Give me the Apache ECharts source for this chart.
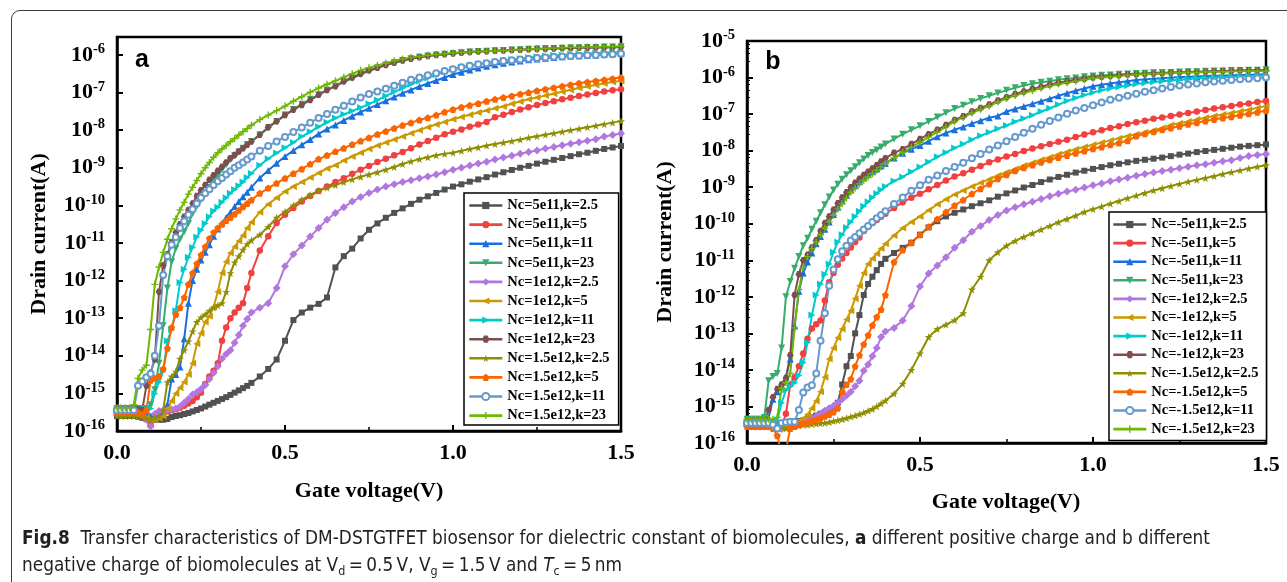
<!DOCTYPE html>
<html><head><meta charset="utf-8">
<script src="https://cdn.jsdelivr.net/npm/echarts@6/dist/echarts.min.js"></script>
<style>
html,body{margin:0;padding:0;background:#fff;width:1287px;height:582px;overflow:hidden;position:relative;}
#frame{position:absolute;left:11px;top:10px;width:1300px;height:600px;border:1.3px solid #3c3c3c;border-radius:9px;box-sizing:border-box;}
#chart{position:absolute;left:0;top:0;width:1287px;height:582px;}
.cap{position:absolute;left:22px;white-space:nowrap;font-family:"Liberation Sans Narrow","DejaVu Sans Condensed","Liberation Sans",sans-serif;font-size:19px;line-height:20px;color:#231f20;transform-origin:0 50%;}
.cap .sb{font-size:0.66em;position:relative;top:0.3em;}
</style></head>
<body>
<div id="frame"></div>
<div id="chart"></div>
<div id="cap1" class="cap" style="top:527px"><b>Fig.8</b>&nbsp; Transfer characteristics of DM-DSTGTFET biosensor for dielectric constant of biomolecules, <b>a</b> different positive charge and b different</div>
<div id="cap2" class="cap" style="top:554px">negative charge of biomolecules at V<span class="sb">d</span>&#8201;=&#8201;0.5&#8201;V, V<span class="sb">g</span>&#8201;=&#8201;1.5&#8201;V and <i>T</i><span class="sb">c</span>&#8201;=&#8201;5&#8201;nm</div>
<script>
// Gate voltage (V) sample points shared by all curves
const X = [0,0.0125,0.025,0.0375,0.05,0.0625,0.075,0.0875,0.1,0.1125,0.125,0.1375,0.15,0.1625,0.175,0.1875,0.2,0.2125,0.225,0.2375,0.25,0.2625,0.275,0.2875,0.3,0.3125,0.325,0.3375,0.35,0.3625,0.375,0.3875,0.4,
0.425,0.45,0.475,0.5,0.525,0.55,0.575,0.6,0.625,0.65,0.675,0.7,0.725,0.75,0.775,0.8,0.825,0.85,0.875,0.9,0.925,0.95,0.975,1.0,1.025,1.05,1.075,1.1,1.125,1.15,1.175,1.2,1.225,1.25,1.275,1.3,1.325,1.35,1.375,1.4,1.425,1.45,1.475,1.5];

// Legend names
const NAMES_A = ['Nc=5e11,k=2.5','Nc=5e11,k=5','Nc=5e11,k=11','Nc=5e11,k=23','Nc=1e12,k=2.5','Nc=1e12,k=5','Nc=1e12,k=11','Nc=1e12,k=23','Nc=1.5e12,k=2.5','Nc=1.5e12,k=5','Nc=1.5e12,k=11','Nc=1.5e12,k=23'];
const NAMES_B = ['Nc=-5e11,k=2.5','Nc=-5e11,k=5','Nc=-5e11,k=11','Nc=-5e11,k=23','Nc=-1e12,k=2.5','Nc=-1e12,k=5','Nc=-1e12,k=11','Nc=-1e12,k=23','Nc=-1.5e12,k=2.5','Nc=-1.5e12,k=5','Nc=-1.5e12,k=11','Nc=-1.5e12,k=23'];

// Y tick labels (decades)
const Y_TICKS_A = [-16,-15,-14,-13,-12,-11,-10,-9,-8,-7,-6];
const Y_TICKS_B = [-16,-15,-14,-13,-12,-11,-10,-9,-8,-7,-6,-5];

// Panel a: log10 of drain current (A)
const A1 = [-15.6,-15.6,-15.6,-15.6,-15.6,-15.62,-15.65,-15.68,-15.7,-15.7,-15.7,-15.7,-15.68,-15.63,-15.6,-15.58,-15.55,-15.52,-15.48,-15.44,-15.4,-15.35,-15.3,-15.25,-15.2,-15.15,-15.1,-15.04,-14.98,-14.92,-14.86,-14.8,-14.72,
-14.55,-14.35,-14.1,-13.6,-13.05,-12.85,-12.72,-12.62,-12.45,-11.65,-11.35,-11.15,-10.88,-10.65,-10.48,-10.33,-10.2,-10.08,-9.96,-9.85,-9.76,-9.67,-9.58,-9.5,-9.44,-9.37,-9.31,-9.25,-9.18,-9.12,-9.06,-9.0,-8.95,-8.89,-8.84,-8.79,-8.74,-8.69,-8.64,-8.6,-8.55,-8.5,-8.46,-8.42];
const A2 = [-15.5,-15.5,-15.5,-15.5,-15.5,-15.5,-15.5,-15.55,-15.85,-15.6,-15.52,-15.5,-15.48,-15.45,-15.42,-15.38,-15.33,-15.27,-15.2,-15.1,-14.98,-14.75,-14.55,-14.4,-14.2,-13.6,-13.25,-13.0,-12.85,-12.72,-12.6,-12.2,-11.8,
-11.2,-10.82,-10.47,-10.25,-10.07,-9.9,-9.75,-9.62,-9.5,-9.38,-9.28,-9.16,-9.05,-8.95,-8.85,-8.76,-8.67,-8.58,-8.48,-8.38,-8.29,-8.2,-8.11,-8.04,-7.98,-7.91,-7.85,-7.78,-7.66,-7.59,-7.52,-7.45,-7.39,-7.33,-7.28,-7.23,-7.18,-7.14,-7.09,-7.05,-7.01,-6.97,-6.94,-6.91];
const A3 = [-15.48,-15.48,-15.48,-15.48,-15.48,-15.48,-15.5,-15.55,-15.6,-15.6,-15.58,-15.55,-15.3,-14.62,-14.5,-14.3,-13.55,-12.6,-12.0,-11.7,-11.45,-11.25,-11.05,-10.82,-10.63,-10.47,-10.32,-10.18,-10.03,-9.9,-9.77,-9.65,-9.52,
-9.27,-9.07,-8.88,-8.7,-8.54,-8.39,-8.25,-8.1,-7.97,-7.86,-7.74,-7.63,-7.52,-7.42,-7.32,-7.22,-7.12,-7.02,-6.93,-6.84,-6.76,-6.68,-6.6,-6.52,-6.46,-6.4,-6.35,-6.3,-6.26,-6.22,-6.19,-6.16,-6.13,-6.11,-6.09,-6.07,-6.05,-6.03,-6.02,-6.01,-6.0,-5.99,-5.97,-5.96];
const A4 = [-15.4,-15.4,-15.4,-15.4,-15.4,-15.4,-15.4,-15.4,-15.3,-14.9,-14.2,-13.2,-12.2,-11.5,-11.15,-10.9,-10.7,-10.48,-10.22,-10.03,-9.85,-9.68,-9.52,-9.36,-9.2,-9.05,-8.92,-8.79,-8.68,-8.58,-8.48,-8.39,-8.3,
-8.13,-7.94,-7.77,-7.6,-7.45,-7.31,-7.18,-7.06,-6.94,-6.83,-6.72,-6.62,-6.52,-6.43,-6.35,-6.27,-6.21,-6.15,-6.1,-6.06,-6.03,-6.0,-5.98,-5.96,-5.94,-5.92,-5.91,-5.9,-5.89,-5.88,-5.87,-5.86,-5.85,-5.84,-5.83,-5.83,-5.82,-5.81,-5.81,-5.8,-5.8,-5.79,-5.79,-5.78];
const A5 = [-15.55,-15.55,-15.55,-15.55,-15.55,-15.55,-15.58,-15.7,-15.88,-15.55,-15.47,-15.45,-15.45,-15.43,-15.4,-15.35,-15.25,-15.15,-15.03,-14.97,-14.88,-14.78,-14.62,-14.45,-14.28,-14.08,-13.95,-13.85,-13.65,-13.45,-13.2,-13.02,-12.85,
-12.72,-12.6,-12.2,-11.62,-11.3,-11.07,-10.83,-10.6,-10.38,-10.2,-10.05,-9.9,-9.78,-9.67,-9.58,-9.5,-9.44,-9.38,-9.33,-9.28,-9.23,-9.18,-9.12,-9.05,-9.0,-8.94,-8.89,-8.84,-8.78,-8.73,-8.68,-8.63,-8.58,-8.54,-8.49,-8.45,-8.4,-8.36,-8.32,-8.28,-8.24,-8.17,-8.13,-8.09];
const A6 = [-15.55,-15.55,-15.55,-15.55,-15.55,-15.55,-15.58,-15.65,-15.72,-15.7,-15.66,-15.6,-15.4,-15.2,-15.0,-14.85,-14.7,-14.5,-14.2,-13.68,-13.4,-13.1,-12.95,-12.7,-12.3,-11.8,-11.5,-11.27,-11.1,-10.95,-10.8,-10.6,-10.45,
-10.18,-9.97,-9.8,-9.63,-9.5,-9.38,-9.26,-9.14,-9.02,-8.93,-8.81,-8.7,-8.6,-8.5,-8.41,-8.33,-8.25,-8.17,-8.08,-8.0,-7.92,-7.85,-7.78,-7.71,-7.65,-7.59,-7.53,-7.48,-7.42,-7.37,-7.3,-7.24,-7.18,-7.13,-7.08,-7.03,-6.98,-6.93,-6.88,-6.84,-6.8,-6.76,-6.72,-6.69];
const A7 = [-15.45,-15.45,-15.45,-15.45,-15.45,-15.45,-15.45,-15.5,-15.4,-15.0,-14.7,-14.4,-13.6,-13.3,-12.8,-12.05,-11.7,-11.38,-11.12,-10.84,-10.66,-10.48,-10.3,-10.15,-10.05,-9.92,-9.8,-9.68,-9.58,-9.48,-9.38,-9.26,-9.15,
-8.93,-8.76,-8.61,-8.47,-8.33,-8.17,-8.04,-7.91,-7.79,-7.68,-7.58,-7.49,-7.4,-7.3,-7.2,-7.09,-6.98,-6.88,-6.78,-6.69,-6.61,-6.53,-6.45,-6.38,-6.33,-6.29,-6.25,-6.21,-6.18,-6.15,-6.12,-6.1,-6.07,-6.05,-6.03,-6.01,-6.0,-5.98,-5.97,-5.96,-5.95,-5.94,-5.93,-5.92];
const A8 = [-15.42,-15.42,-15.42,-15.42,-15.42,-15.42,-15.45,-14.8,-14.45,-14.1,-12.3,-11.6,-11.3,-10.98,-10.72,-10.5,-10.3,-10.12,-9.95,-9.75,-9.6,-9.46,-9.32,-9.2,-9.08,-8.97,-8.86,-8.75,-8.66,-8.57,-8.48,-8.39,-8.3,
-8.12,-7.92,-7.76,-7.6,-7.46,-7.33,-7.2,-7.06,-6.93,-6.83,-6.7,-6.6,-6.5,-6.41,-6.34,-6.27,-6.21,-6.15,-6.1,-6.06,-6.03,-6.0,-5.98,-5.96,-5.94,-5.92,-5.91,-5.9,-5.89,-5.88,-5.87,-5.86,-5.85,-5.84,-5.84,-5.83,-5.82,-5.82,-5.81,-5.81,-5.8,-5.8,-5.8,-5.79];
const A9 = [-15.6,-15.6,-15.6,-15.6,-15.6,-15.6,-15.62,-15.66,-15.7,-15.65,-15.6,-15.45,-14.7,-14.55,-14.42,-14.08,-13.85,-13.62,-13.35,-13.1,-12.98,-12.9,-12.8,-12.72,-12.66,-12.6,-12.3,-11.8,-11.52,-11.35,-11.18,-11.03,-10.93,
-10.78,-10.57,-10.33,-10.17,-10.0,-9.85,-9.72,-9.61,-9.53,-9.46,-9.38,-9.31,-9.24,-9.18,-9.12,-9.05,-8.98,-8.9,-8.83,-8.77,-8.72,-8.67,-8.63,-8.6,-8.55,-8.5,-8.46,-8.41,-8.37,-8.33,-8.29,-8.25,-8.2,-8.16,-8.12,-8.08,-8.04,-8.0,-7.96,-7.92,-7.88,-7.84,-7.8,-7.76];
const A10 = [-15.5,-15.5,-15.5,-15.5,-15.5,-15.5,-15.55,-15.45,-14.65,-14.6,-14.55,-14.35,-13.8,-13.25,-12.9,-12.72,-12.45,-12.1,-11.8,-11.55,-11.32,-11.1,-10.88,-10.72,-10.6,-10.5,-10.4,-10.32,-10.23,-10.13,-10.04,-9.95,-9.86,
-9.68,-9.54,-9.41,-9.28,-9.15,-9.03,-8.9,-8.77,-8.67,-8.57,-8.48,-8.38,-8.29,-8.2,-8.11,-8.03,-7.95,-7.87,-7.8,-7.73,-7.67,-7.6,-7.52,-7.45,-7.39,-7.34,-7.29,-7.23,-7.18,-7.13,-7.09,-7.04,-7.0,-6.95,-6.91,-6.87,-6.83,-6.79,-6.75,-6.72,-6.69,-6.66,-6.63,-6.6];
const A11 = [-15.45,-15.45,-15.45,-15.45,-15.45,-14.8,-14.68,-14.57,-14.48,-14.0,-13.2,-11.85,-11.35,-11.05,-10.85,-10.6,-10.42,-10.25,-10.1,-9.95,-9.8,-9.68,-9.57,-9.46,-9.36,-9.27,-9.18,-9.09,-9.0,-8.93,-8.86,-8.78,-8.7,
-8.55,-8.42,-8.3,-8.18,-8.05,-7.93,-7.8,-7.68,-7.57,-7.46,-7.35,-7.24,-7.13,-7.04,-6.97,-6.9,-6.82,-6.74,-6.66,-6.6,-6.54,-6.49,-6.43,-6.38,-6.33,-6.29,-6.25,-6.22,-6.19,-6.16,-6.14,-6.12,-6.1,-6.08,-6.07,-6.05,-6.04,-6.03,-6.02,-6.01,-6.0,-5.99,-5.98,-5.97];
const A12 = [-15.38,-15.38,-15.38,-15.38,-15.3,-14.6,-14.38,-14.25,-13.3,-12.1,-11.64,-11.25,-10.9,-10.62,-10.36,-10.12,-9.92,-9.7,-9.52,-9.34,-9.16,-9.0,-8.86,-8.72,-8.6,-8.5,-8.41,-8.31,-8.22,-8.13,-8.04,-7.96,-7.87,
-7.72,-7.6,-7.48,-7.36,-7.23,-7.11,-6.99,-6.88,-6.78,-6.69,-6.59,-6.5,-6.41,-6.34,-6.28,-6.22,-6.16,-6.11,-6.07,-6.04,-6.01,-5.99,-5.97,-5.95,-5.93,-5.92,-5.91,-5.9,-5.89,-5.88,-5.87,-5.86,-5.85,-5.84,-5.83,-5.82,-5.81,-5.8,-5.8,-5.79,-5.79,-5.78,-5.78,-5.77];

// Panel b: log10 of drain current (A)
const B1 = [-15.45,-15.45,-15.45,-15.45,-15.45,-15.45,-15.45,-15.5,-15.55,-15.5,-15.45,-15.42,-15.4,-15.38,-15.35,-15.3,-15.25,-15.2,-15.15,-15.1,-15.05,-14.9,-14.4,-13.9,-13.62,-13.0,-12.5,-11.95,-11.65,-11.45,-11.27,-11.1,-10.96,
-10.8,-10.66,-10.52,-10.3,-10.1,-9.93,-9.8,-9.7,-9.61,-9.52,-9.44,-9.36,-9.26,-9.17,-9.09,-9.01,-8.94,-8.86,-8.79,-8.72,-8.66,-8.6,-8.55,-8.5,-8.45,-8.4,-8.36,-8.32,-8.28,-8.25,-8.22,-8.19,-8.15,-8.11,-8.08,-8.04,-8.01,-7.98,-7.95,-7.92,-7.89,-7.87,-7.85,-7.83];
const B2 = [-15.45,-15.45,-15.45,-15.45,-15.45,-15.45,-15.45,-15.55,-15.55,-15.2,-14.4,-14.2,-13.9,-13.55,-13.15,-12.87,-12.75,-12.65,-12.1,-11.6,-11.35,-11.12,-10.95,-10.8,-10.65,-10.5,-10.38,-10.2,-10.08,-9.98,-9.9,-9.81,-9.73,
-9.57,-9.41,-9.29,-9.18,-9.06,-8.94,-8.82,-8.71,-8.62,-8.52,-8.42,-8.32,-8.24,-8.16,-8.09,-8.01,-7.94,-7.88,-7.82,-7.76,-7.7,-7.63,-7.56,-7.5,-7.44,-7.38,-7.33,-7.27,-7.22,-7.18,-7.13,-7.09,-7.05,-7.01,-6.97,-6.93,-6.89,-6.85,-6.81,-6.78,-6.74,-6.71,-6.67,-6.64];
const B3 = [-15.4,-15.4,-15.4,-15.4,-15.4,-15.3,-14.8,-14.6,-14.45,-14.2,-13.7,-12.8,-11.85,-11.35,-11.05,-10.8,-10.55,-10.35,-10.15,-9.95,-9.75,-9.55,-9.38,-9.22,-9.08,-8.96,-8.85,-8.75,-8.66,-8.58,-8.5,-8.42,-8.35,
-8.2,-8.07,-7.96,-7.86,-7.74,-7.62,-7.52,-7.43,-7.35,-7.26,-7.18,-7.1,-7.05,-6.93,-6.86,-6.79,-6.72,-6.65,-6.58,-6.5,-6.43,-6.36,-6.3,-6.24,-6.2,-6.16,-6.13,-6.1,-6.07,-6.05,-6.03,-6.02,-6.0,-5.99,-5.98,-5.97,-5.96,-5.95,-5.95,-5.94,-5.93,-5.93,-5.92,-5.91];
const B4 = [-15.35,-15.35,-15.35,-15.35,-15.3,-14.3,-14.18,-14.1,-13.4,-12.0,-11.58,-11.22,-10.9,-10.6,-10.4,-10.15,-9.93,-9.7,-9.48,-9.27,-9.08,-8.92,-8.78,-8.66,-8.55,-8.44,-8.33,-8.23,-8.13,-8.05,-7.98,-7.9,-7.82,
-7.68,-7.55,-7.43,-7.32,-7.2,-7.08,-6.96,-6.85,-6.76,-6.66,-6.57,-6.5,-6.42,-6.35,-6.28,-6.22,-6.17,-6.13,-6.1,-6.06,-6.03,-6.01,-5.98,-5.96,-5.94,-5.93,-5.91,-5.9,-5.89,-5.88,-5.87,-5.86,-5.86,-5.85,-5.84,-5.84,-5.83,-5.82,-5.82,-5.81,-5.81,-5.8,-5.8,-5.79];
const B5 = [-15.55,-15.55,-15.55,-15.55,-15.55,-15.55,-15.55,-15.6,-15.62,-15.55,-15.5,-15.48,-15.45,-15.42,-15.38,-15.33,-15.27,-15.2,-15.12,-15.05,-14.98,-14.9,-14.8,-14.7,-14.6,-14.45,-14.3,-14.02,-13.85,-13.62,-13.4,-13.1,-12.95,
-12.85,-12.65,-12.25,-11.72,-11.36,-11.14,-10.92,-10.66,-10.45,-10.22,-10.06,-9.9,-9.76,-9.64,-9.55,-9.47,-9.4,-9.32,-9.25,-9.18,-9.12,-9.07,-9.01,-8.95,-8.9,-8.84,-8.79,-8.74,-8.69,-8.64,-8.6,-8.56,-8.52,-8.48,-8.44,-8.4,-8.37,-8.33,-8.29,-8.26,-8.2,-8.15,-8.12,-8.09];
const B6 = [-15.5,-15.5,-15.5,-15.5,-15.5,-15.5,-15.5,-15.55,-15.6,-15.55,-15.5,-15.45,-15.4,-15.32,-15.22,-15.05,-14.85,-14.6,-14.2,-13.7,-13.4,-13.12,-12.88,-12.62,-12.38,-12.05,-11.7,-11.35,-11.1,-10.95,-10.82,-10.68,-10.55,
-10.32,-10.12,-9.95,-9.8,-9.63,-9.47,-9.33,-9.2,-9.09,-8.98,-8.88,-8.78,-8.68,-8.59,-8.5,-8.41,-8.33,-8.25,-8.18,-8.1,-8.03,-7.96,-7.9,-7.84,-7.78,-7.72,-7.66,-7.6,-7.55,-7.5,-7.45,-7.38,-7.3,-7.25,-7.2,-7.15,-7.1,-7.05,-7.01,-6.97,-6.92,-6.88,-6.83,-6.78];
const B7 = [-15.45,-15.45,-15.45,-15.45,-15.45,-15.45,-15.45,-15.4,-14.9,-14.55,-14.45,-14.35,-14.15,-13.8,-13.25,-12.5,-11.95,-11.65,-11.38,-11.1,-10.78,-10.5,-10.3,-10.1,-9.95,-9.8,-9.66,-9.52,-9.4,-9.28,-9.17,-9.07,-8.98,
-8.83,-8.72,-8.58,-8.45,-8.31,-8.17,-8.05,-7.93,-7.82,-7.7,-7.59,-7.5,-7.4,-7.31,-7.21,-7.12,-7.03,-6.93,-6.84,-6.74,-6.64,-6.56,-6.48,-6.41,-6.35,-6.3,-6.26,-6.22,-6.18,-6.15,-6.12,-6.1,-6.08,-6.06,-6.04,-6.02,-6.01,-6.0,-5.99,-5.98,-5.97,-5.96,-5.95,-5.93];
const B8 = [-15.4,-15.4,-15.4,-15.4,-15.4,-15.1,-14.75,-14.52,-14.4,-14.22,-13.6,-11.95,-11.38,-11.0,-10.85,-10.65,-10.45,-10.2,-9.98,-9.8,-9.62,-9.44,-9.28,-9.14,-9.0,-8.88,-8.77,-8.67,-8.58,-8.49,-8.4,-8.3,-8.21,
-8.06,-7.96,-7.82,-7.68,-7.55,-7.43,-7.3,-7.16,-7.06,-6.93,-6.83,-6.74,-6.63,-6.54,-6.45,-6.38,-6.31,-6.25,-6.19,-6.14,-6.1,-6.06,-6.03,-6.0,-5.98,-5.96,-5.94,-5.92,-5.91,-5.9,-5.89,-5.88,-5.87,-5.86,-5.85,-5.85,-5.84,-5.83,-5.82,-5.82,-5.81,-5.81,-5.8,-5.8];
const B9 = [-15.45,-15.45,-15.45,-15.45,-15.45,-15.45,-15.45,-15.5,-15.55,-15.6,-15.6,-15.55,-15.52,-15.5,-15.5,-15.48,-15.47,-15.46,-15.45,-15.43,-15.4,-15.38,-15.35,-15.32,-15.28,-15.25,-15.21,-15.17,-15.12,-15.07,-15.0,-14.92,-14.84,
-14.65,-14.38,-14.0,-13.55,-13.1,-12.88,-12.76,-12.64,-12.45,-11.8,-11.45,-11.0,-10.78,-10.6,-10.47,-10.36,-10.26,-10.16,-10.06,-9.96,-9.87,-9.78,-9.68,-9.6,-9.53,-9.45,-9.38,-9.3,-9.23,-9.16,-9.09,-9.03,-8.97,-8.91,-8.85,-8.8,-8.75,-8.7,-8.64,-8.59,-8.54,-8.49,-8.44,-8.4];
const B10 = [-15.55,-15.55,-15.55,-15.55,-15.55,-15.55,-15.6,-15.8,-16.3,-16.2,-15.6,-15.55,-15.5,-15.47,-15.44,-15.4,-15.36,-15.32,-15.27,-15.22,-15.15,-15.05,-14.6,-14.4,-14.25,-13.9,-13.6,-13.3,-13.05,-12.78,-12.55,-12.35,-11.95,
-11.05,-10.72,-10.52,-10.3,-10.08,-9.87,-9.68,-9.5,-9.35,-9.18,-9.04,-8.91,-8.77,-8.66,-8.55,-8.47,-8.39,-8.32,-8.25,-8.19,-8.13,-8.07,-8.01,-7.95,-7.9,-7.84,-7.79,-7.73,-7.6,-7.54,-7.48,-7.43,-7.38,-7.33,-7.28,-7.24,-7.19,-7.15,-7.11,-7.07,-7.03,-6.99,-6.95,-6.91];
const B11 = [-15.45,-15.45,-15.45,-15.45,-15.45,-15.45,-15.5,-15.6,-15.45,-15.43,-15.42,-15.42,-15.1,-14.62,-14.48,-14.42,-14.1,-13.2,-12.45,-11.7,-11.25,-10.97,-10.75,-10.6,-10.46,-10.36,-10.26,-10.16,-10.06,-9.95,-9.85,-9.76,-9.66,
-9.46,-9.28,-9.1,-8.95,-8.8,-8.68,-8.56,-8.45,-8.33,-8.21,-8.09,-7.97,-7.86,-7.74,-7.63,-7.51,-7.4,-7.29,-7.19,-7.09,-6.99,-6.9,-6.83,-6.76,-6.68,-6.61,-6.55,-6.5,-6.44,-6.39,-6.35,-6.3,-6.26,-6.22,-6.19,-6.16,-6.13,-6.11,-6.09,-6.07,-6.05,-6.03,-6.02,-6.0];
const B12 = [-15.35,-15.35,-15.35,-15.35,-15.35,-15.35,-15.35,-15.3,-14.5,-14.35,-14.1,-12.85,-11.8,-11.2,-10.9,-10.68,-10.5,-10.3,-10.12,-9.95,-9.77,-9.6,-9.45,-9.3,-9.14,-9.02,-8.91,-8.81,-8.72,-8.63,-8.54,-8.45,-8.36,
-8.2,-8.05,-7.91,-7.77,-7.63,-7.49,-7.35,-7.2,-7.09,-6.97,-6.87,-6.78,-6.67,-6.57,-6.49,-6.42,-6.36,-6.29,-6.23,-6.18,-6.14,-6.1,-6.06,-6.02,-6.0,-5.98,-5.96,-5.94,-5.92,-5.91,-5.9,-5.89,-5.88,-5.87,-5.86,-5.86,-5.85,-5.84,-5.84,-5.83,-5.83,-5.82,-5.82,-5.82];

const SERIES_A = [A1,A2,A3,A4,A5,A6,A7,A8,A9,A10,A11,A12];
const SERIES_B = [B1,B2,B3,B4,B5,B6,B7,B8,B9,B10,B11,B12];

// ---- styling ----
const COLORS = ['#515151','#F14040','#1A6FDF','#37AD6B','#B177DE','#CC9900','#00CBCC','#7D4E4E','#8E8E00','#FB6501','#6699CC','#6FB802'];
const STAR = 'path://M50,0 L61,35 L98,35 L68,57 L79,91 L50,70 L21,91 L32,57 L2,35 L39,35 Z';
const PENT = 'path://M50,0 L98,36 L80,95 L20,95 L2,36 Z';
const HEX = 'path://M25,0 L75,0 L100,50 L75,100 L25,100 L0,50 Z';
const PLUS = 'path://M40,0 H60 V40 H100 V60 H60 V100 H40 V60 H0 V40 H40 Z';
const SYMBOLS = [['rect',0,6],['circle',0,6.5],['triangle',0,7],['triangle',180,7],['diamond',0,8],['triangle',90,7],['triangle',-90,7],[HEX,0,6.5],[STAR,0,8],[PENT,0,7],['emptyCircle',0,6],[PLUS,0,7]];
const SERIF = '"Liberation Serif","Times New Roman",serif';
const RICH = {b:{fontFamily:SERIF, fontWeight:'bold', fontSize:22, color:'#000', lineHeight:26},
              s:{fontFamily:SERIF, fontWeight:'bold', fontSize:14.5, color:'#000', verticalAlign:'top', lineHeight:14}};

function decadeText(e, ticks){
  const r = Math.round(e);
  if (Math.abs(e - r) > 1e-6 || ticks.indexOf(r) < 0) return '';
  return '{b|10}{s|' + r + '}';
}

function xAxisCfg(idx){
  return {type:'value', gridIndex:idx, min:0, max:1.5, interval:0.5,
    axisLine:{show:true, lineStyle:{color:'#000', width:2.5}},
    axisTick:{show:true, inside:true, length:6, lineStyle:{color:'#000', width:2}},
    minorTick:{show:true, splitNumber:2, length:4, lineStyle:{color:'#000', width:1.5}},
    axisLabel:{formatter:function(v){return v.toFixed(1);}, margin:11, fontFamily:SERIF, fontWeight:'bold', fontSize:22, color:'#000'},
    splitLine:{show:false}};
}
function yAxisCfg(idx, maxExp, ticks, minor, useLog){
  const common = {gridIndex:idx,
    axisLine:{show:true, lineStyle:{color:'#000', width:2.5}},
    axisTick:{show:true, inside:true, length:6, lineStyle:{color:'#000', width:2}},
    minorTick:{show:minor, splitNumber:5, length:3, lineStyle:{color:'#000', width:1}},
    splitLine:{show:false}, minorSplitLine:{show:false}};
  if (useLog) {
    return Object.assign(common, {type:'log', logBase:10, min:Math.pow(10,-16), max:Math.pow(10,maxExp), interval:1, splitNumber:ticks.length-1,
      axisLabel:{formatter:function(v){return decadeText(Math.log10(v), ticks);}, margin:12, rich:RICH}});
  }
  return Object.assign(common, {type:'value', min:-16, max:maxExp, interval:1,
    axisLabel:{formatter:function(v){return decadeText(v, ticks);}, margin:12, rich:RICH}});
}

function buildSeries(useLog){
  const out = [];
  function add(names, arrs, idx){
    arrs.forEach(function(arr, i){
      if (arr.length !== X.length) console.warn('length mismatch', names[i], arr.length);
      const sym = SYMBOLS[i];
      out.push({
        type:'line', name:names[i], xAxisIndex:idx, yAxisIndex:idx,
        data: X.map(function(x, j){ return [x, useLog ? Math.pow(10, arr[j]) : arr[j]]; }),
        symbol:sym[0], symbolRotate:sym[1], symbolSize:sym[2], showSymbol:true,
        lineStyle:{color:COLORS[i], width:2},
        itemStyle: sym[0] === 'emptyCircle' ? {color:COLORS[i], borderColor:COLORS[i], borderWidth:1.5} : {color:COLORS[i], borderWidth:0},
        clip:true, animation:false, silent:true
      });
    });
  }
  add(NAMES_A, SERIES_A, 0);
  add(NAMES_B, SERIES_B, 1);
  return out;
}

function legendCfg(names, left, top, gap, pad){
  return {data:names, orient:'vertical', left:left, top:top, itemWidth:33, itemHeight:9, itemGap:gap,
    padding:pad, borderColor:'#000', borderWidth:1.5, backgroundColor:'#fff', selectedMode:false,
    lineStyle:{width:2.6},
    textStyle:{fontFamily:SERIF, fontWeight:'bold', fontSize:14.5, color:'#000', lineHeight:15}};
}

function buildOption(useLog){
  return {
    backgroundColor:'transparent',
    animation:false,
    grid:[
      {left:117, top:37, width:504, height:394, show:true, borderColor:'#000', borderWidth:2.5, backgroundColor:'transparent', containLabel:false, outerBoundsMode:'none'},
      {left:747, top:41, width:519, height:402, show:true, borderColor:'#000', borderWidth:2.5, backgroundColor:'transparent', containLabel:false, outerBoundsMode:'none'}
    ],
    xAxis:[xAxisCfg(0), xAxisCfg(1)],
    yAxis:[yAxisCfg(0, Math.log10(3e-6), Y_TICKS_A, false, useLog), yAxisCfg(1, -5, Y_TICKS_B, true, useLog)],
    legend:[
      legendCfg(NAMES_A, 464, 193, 4.1, [5, 9, 2, 4]),
      legendCfg(NAMES_B, 1109, 212, 3.6, [5, 8, 4, 3])
    ],
    graphic:[
      {type:'text', x:142, y:60, style:{text:'a', font:'bold 25px "Liberation Sans", Arial, sans-serif', fill:'#000', align:'center', verticalAlign:'middle'}},
      {type:'text', x:773, y:62, style:{text:'b', font:'bold 25px "Liberation Sans", Arial, sans-serif', fill:'#000', align:'center', verticalAlign:'middle'}},
      {type:'text', x:39, y:234, rotation:Math.PI/2, style:{text:'Drain current(A)', font:'bold 22px "Liberation Serif", serif', fill:'#000', align:'center', verticalAlign:'middle'}},
      {type:'text', x:665, y:242, rotation:Math.PI/2, style:{text:'Drain current(A)', font:'bold 22px "Liberation Serif", serif', fill:'#000', align:'center', verticalAlign:'middle'}},
      {type:'text', x:369, y:491, style:{text:'Gate voltage(V)', font:'bold 22px "Liberation Serif", serif', fill:'#000', align:'center', verticalAlign:'middle'}},
      {type:'text', x:1006, y:502, style:{text:'Gate voltage(V)', font:'bold 22px "Liberation Serif", serif', fill:'#000', align:'center', verticalAlign:'middle'}}
    ],
    series:buildSeries(useLog)
  };
}

const chart = echarts.init(document.getElementById('chart'), null, {renderer:'canvas', width:1287, height:582});
chart.setOption(buildOption(true));
// If the log scale does not put a tick on every decade, fall back to a linear scale on log10 values
let logOk = false;
try {
  const sa = chart.getModel().getComponent('yAxis', 0).axis.scale;
  const sb = chart.getModel().getComponent('yAxis', 1).axis.scale;
  logOk = sa.getTicks().length >= 11 && sa.getTicks().length <= 13 && sb.getTicks().length >= 12 && sb.getTicks().length <= 13;
} catch (e) { logOk = false; }
if (!logOk) chart.setOption(buildOption(false), true);

// fit caption width to the reference line length
(function(){
  const c1 = document.getElementById('cap1'), c2 = document.getElementById('cap2');
  const w = c1.getBoundingClientRect().width;
  const k = 1188 / w;
  c1.style.transform = 'scaleX(' + k + ')';
  c2.style.transform = 'scaleX(' + k + ')';
})();
</script>
</body></html>
